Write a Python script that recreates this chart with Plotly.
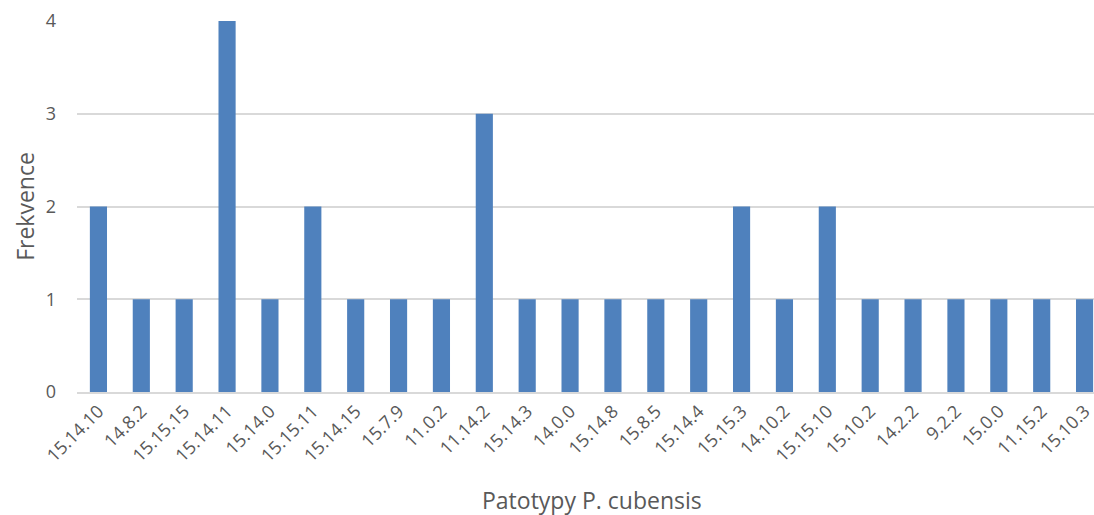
import plotly.graph_objects as go

categories = ["15.14.10", "14.8.2", "15.15.15", "15.14.11", "15.14.0", "15.15.11",
              "15.14.15", "15.7.9", "11.0.2", "11.14.2", "15.14.3", "14.0.0",
              "15.14.8", "15.8.5", "15.14.4", "15.15.3", "14.10.2", "15.15.10",
              "15.10.2", "14.2.2", "9.2.2", "15.0.0", "11.15.2", "15.10.3"]
frequencies = [2, 1, 1, 4, 1, 2, 1, 1, 1, 3, 1, 1, 1, 1, 1, 2, 1, 2, 1, 1, 1, 1, 1, 1]

font_family = "Open Sans, Lato, sans-serif"
text_gray = "#595959"

fig = go.Figure(go.Bar(
    x=list(range(len(categories))),
    y=frequencies,
    marker=dict(color="#4f81bd", line=dict(width=0)),
    width=0.4,
))

fig.update_layout(
    width=1094, height=515,
    margin=dict(l=77, r=0, t=21, b=123),
    paper_bgcolor="white", plot_bgcolor="white",
    showlegend=False,
    font=dict(family=font_family, color=text_gray),
    xaxis=dict(
        tickmode="array",
        tickvals=list(range(len(categories))),
        ticktext=categories,
        tickangle=-45,
        tickfont=dict(size=18, color=text_gray),
        ticklabeloverflow="allow",
        range=[-0.5, 23.22],
        showgrid=False,
        showline=True, linecolor="#d9d9d9", linewidth=1.5,
        ticks="", zeroline=False,
    ),
    yaxis=dict(
        range=[0, 4],
        tickvals=[0, 1, 2, 3, 4],
        tickfont=dict(size=18, color=text_gray),
        showgrid=True, gridcolor="#d9d9d9", gridwidth=1.5,
        zeroline=False, ticks="", ticklabelstandoff=20,
        title=dict(text="Frekvence", font=dict(size=23, color=text_gray), standoff=4),
    ),
    annotations=[dict(
        text="Patotypy P. cubensis", x=11.5, xref="x",
        y=-(500 - 392) / (392 - 21), yref="paper", yanchor="middle",
        showarrow=False, font=dict(size=23, color=text_gray),
    )],
)

fig.write_html("out.html")
